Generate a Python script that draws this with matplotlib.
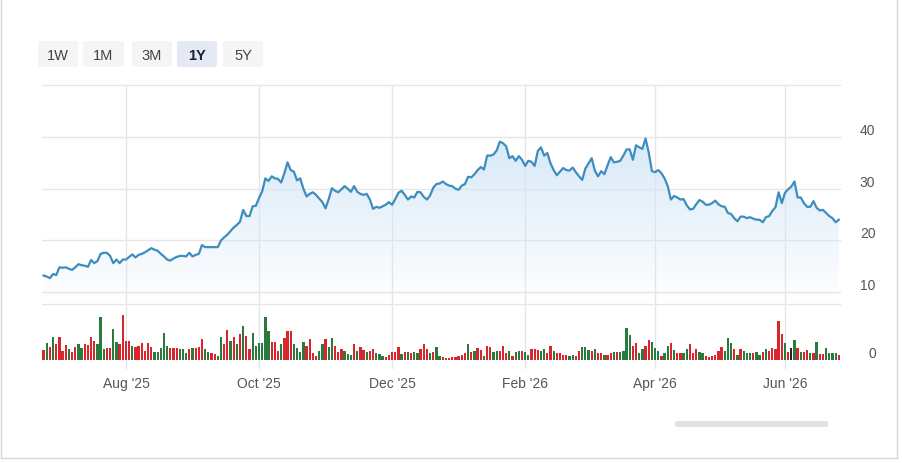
import numpy as np
import pandas as pd
import matplotlib
matplotlib.use("Agg")
import matplotlib.pyplot as plt
from matplotlib.patches import FancyBboxPatch, PathPatch
from matplotlib.lines import Line2D

plt.rcParams['font.family'] = ['Liberation Sans', 'DejaVu Sans']

# ---------------- data ----------------
holidays = ['2025-07-04', '2025-09-01', '2025-11-27', '2025-12-25', '2026-01-01',
            '2026-01-19', '2026-02-16', '2026-04-03', '2026-05-25', '2026-06-19']
dates = pd.bdate_range('2025-06-25', '2026-06-25', freq='C', holidays=holidays)

price = [
    13.2, 13.0, 12.7, 13.5, 13.3, 14.8, 14.7, 14.8, 14.5, 14.3,
    14.8, 15.4, 15.2, 15.1, 14.9, 16.2, 15.6, 16.0, 17.4, 17.6,
    17.6, 17.0, 15.6, 16.3, 15.6, 16.3, 16.3, 16.8, 17.3, 16.7,
    17.2, 17.4, 17.7, 18.1, 18.5, 18.2, 18.0, 17.4, 16.9, 16.3,
    16.1, 16.5, 16.8, 17.0, 17.0, 16.9, 17.6, 16.9, 17.2, 17.4,
    19.1, 18.7, 18.7, 18.7, 18.7, 18.7, 20.0, 20.6, 21.1, 21.8,
    22.5, 23.0, 23.6, 25.9, 24.7, 24.7, 26.6, 26.7, 28.2, 29.5,
    32.0, 31.5, 32.4, 32.0, 31.9, 31.2, 33.0, 35.1, 33.6, 33.3,
    31.6, 32.0, 30.0, 28.5, 29.0, 29.3, 28.8, 28.1, 27.4, 26.2,
    28.0, 30.1, 29.6, 29.3, 29.9, 30.5, 30.0, 29.4, 30.5, 29.4,
    29.0, 28.8, 29.0, 27.9, 26.1, 26.5, 26.3, 26.6, 26.9, 27.4,
    26.9, 28.0, 29.2, 29.6, 28.8, 27.9, 28.5, 28.3, 29.4, 29.3,
    28.4, 27.9, 28.7, 30.2, 30.9, 31.0, 31.4, 30.9, 30.6, 30.5,
    30.0, 29.8, 30.6, 30.9, 32.3, 32.2, 32.8, 33.6, 34.2, 33.7,
    36.4, 36.4, 36.6, 37.4, 39.1, 38.8, 38.2, 35.9, 36.3, 35.4,
    36.3, 35.6, 34.4, 35.4, 35.2, 34.4, 37.3, 38.0, 36.4, 36.9,
    34.9, 33.6, 32.6, 33.3, 34.0, 33.6, 33.5, 34.1, 33.2, 32.4,
    31.7, 33.9, 34.9, 35.9, 33.5, 32.4, 33.4, 32.8, 34.5, 36.1,
    35.1, 35.2, 35.4, 36.4, 37.6, 37.6, 35.6, 38.4, 38.0, 37.7,
    39.7, 37.0, 33.4, 33.2, 33.6, 33.0, 32.0, 30.5, 27.9, 28.6,
    28.3, 27.9, 28.0, 26.8, 26.0, 26.1, 27.0, 27.8, 27.5, 26.9,
    26.9, 27.2, 27.7, 27.0, 26.6, 26.5, 25.3, 25.1, 24.3, 23.7,
    24.6, 24.6, 24.3, 24.5, 24.2, 24.0, 24.0, 23.5, 24.5, 24.7,
    25.7, 26.4, 29.3, 27.2, 29.2, 29.9, 30.4, 31.4, 28.3, 28.3,
    27.2, 26.5, 26.5, 27.6, 26.3, 25.8, 25.9, 25.3, 24.7, 24.3,
    23.5, 24.0,
]

# volume, millions
volume = [
    1.0, 1.7, 1.3, 2.3, 1.6, 2.3, 0.9, 1.5, 1.1, 0.8,
    1.3, 1.6, 1.2, 1.6, 1.5, 2.3, 1.9, 1.6, 4.3, 1.1,
    1.2, 1.2, 3.1, 1.8, 1.6, 4.5, 1.9, 1.9, 1.4, 1.3,
    1.4, 1.7, 0.9, 1.7, 1.3, 0.8, 0.8, 1.2, 2.7, 1.4,
    1.2, 1.2, 1.2, 1.1, 1.1, 0.7, 1.1, 1.2, 1.2, 1.3,
    2.1, 1.1, 0.8, 0.7, 0.6, 0.4, 2.3, 1.6, 3.0, 1.9,
    2.3, 1.6, 2.6, 3.4, 2.4, 1.1, 2.7, 1.4, 1.7, 1.7,
    4.3, 2.9, 1.8, 1.8, 0.9, 1.6, 2.2, 2.9, 2.9, 1.6,
    1.2, 0.8, 1.8, 1.4, 2.1, 0.7, 0.4, 0.9, 1.6, 2.1,
    1.3, 2.2, 1.4, 0.8, 1.1, 0.9, 0.6, 0.5, 1.6, 0.9,
    1.3, 1.0, 0.8, 0.9, 1.1, 0.7, 0.6, 0.4, 0.3, 0.5,
    0.8, 0.8, 1.3, 0.6, 0.8, 0.8, 0.7, 0.8, 0.7, 1.1,
    1.6, 1.1, 0.7, 0.8, 1.3, 0.4, 0.3, 0.2, 0.2, 0.3,
    0.3, 0.4, 0.5, 0.7, 1.6, 0.8, 0.9, 1.2, 1.0, 0.4,
    1.4, 1.3, 0.8, 0.9, 0.9, 1.4, 0.7, 0.9, 0.4, 0.8,
    0.9, 0.9, 0.8, 0.5, 1.1, 1.1, 1.0, 0.9, 1.1, 0.7,
    1.4, 0.9, 0.7, 0.7, 0.5, 0.5, 0.4, 0.5, 0.4, 0.9,
    1.3, 1.3, 1.0, 0.9, 1.1, 0.7, 0.7, 0.5, 0.5, 0.7,
    0.8, 0.8, 0.8, 0.9, 3.2, 2.5, 1.4, 1.7, 0.7, 1.1,
    1.4, 2.0, 1.8, 1.2, 0.9, 0.4, 0.7, 1.4, 1.7, 1.0,
    0.7, 0.7, 0.7, 1.1, 1.6, 0.7, 1.1, 0.8, 0.7, 0.4,
    0.3, 0.4, 0.5, 0.9, 1.3, 0.9, 2.2, 1.7, 1.1, 0.5,
    1.1, 0.9, 0.7, 0.7, 0.7, 0.8, 0.5, 0.8, 1.1, 0.9,
    1.2, 1.1, 3.9, 2.6, 1.7, 0.8, 1.2, 2.0, 1.2, 0.8,
    0.8, 1.0, 0.7, 0.7, 1.8, 0.6, 0.6, 1.2, 0.7, 0.7,
    0.7, 0.5,
]

# day direction: g = up, r = down, k = unchanged
volume_dir = "".join([
    "rgrgrrrrgr", "rggrrrrggg", "rrggrrrrgr", "rrrrrggggg", "rrrgggrgrr",
    "rggrrggrrg", "rgrgrrgggg", "ggrrrgrrrg", "gggrrrrggr", "ggrrrgggrg",
    "rrgrrgggrr", "rrrgrgrggr", "rrgrggrrrr", "rrrrgrgrrg", "rrggrrrgrg",
    "grggrrrggr", "rgrrrrggrr", "gggrgrrgrr", "grggggrrgg", "rrgggrggrg",
    "rrggrrrggr", "rrrrrgggrg", "rgggrggrgr", "rrrrgrkgrg", "rrgrgrrggg",
    "gr",
])

tick_months = ['2025-08-01', '2025-10-01', '2025-12-01', '2026-02-01', '2026-04-01', '2026-06-01']
tick_labels = ["Aug '25", "Oct '25", "Dec '25", "Feb '26", "Apr '26", "Jun '26"]
price_ticks = [10, 20, 30, 40]
range_buttons = ['1W', '1M', '3M', '1Y', '5Y']
selected_button = '1Y'

# ---------------- figure ----------------
W, H = 903, 464
fig = plt.figure(figsize=(W / 100, H / 100), dpi=100, facecolor='white')


def fx(px):
    return px / W


def fy(py):
    return 1 - py / H


n = len(price)
x = np.arange(n)
tick_idx = [int(np.searchsorted(dates, pd.Timestamp(m))) for m in tick_months]

left_px, right_px = 42.0, 840.4
ax = fig.add_axes([fx(left_px), fy(305), fx(right_px - left_px), (305 - 86.3) / H])
axv = fig.add_axes([fx(left_px), fy(370), fx(right_px - left_px), (370 - 305) / H])

grid_c = '#e6e6e6'
line_c = '#3d8dbf'
ylo, yhi = 7.7, 50.0

# gradient area under the line
poly = ax.fill_between(x, price, ylo, color='none', lw=0)
path = poly.get_paths()[0]
clip = PathPatch(path, transform=ax.transData, facecolor='none', edgecolor='none')
ax.add_patch(clip)
rgba = np.zeros((256, 1, 4))
rgba[..., 0] = 0.82
rgba[..., 1] = 0.90
rgba[..., 2] = 0.965
rgba[..., 3] = np.linspace(0.85, 0.0, 256)[:, None]
im = ax.imshow(rgba, extent=[x[0], x[-1], ylo, max(price)], aspect='auto',
               origin='upper', zorder=1, interpolation='bilinear')
im.set_clip_path(clip)

ax.plot(x, price, color=line_c, lw=1.6, zorder=3, solid_joinstyle='round')

ax.set_xlim(-0.5, n - 0.5)
ax.set_ylim(ylo, yhi)
for v in price_ticks + [50]:
    ax.axhline(v, color=grid_c, lw=1, zorder=0, clip_on=False)
for t in tick_idx:
    ax.axvline(t, color=grid_c, lw=1, zorder=0)
ax.set_xticks([])
ax.yaxis.tick_right()
ax.set_yticks(price_ticks)
ax.set_yticklabels([str(v) for v in price_ticks])
ax.tick_params(axis='y', length=0, pad=14, labelsize=10, labelcolor='#555555')
for lab in ax.get_yticklabels():
    lab.set_va('bottom')
for s in ['top', 'left', 'right']:
    ax.spines[s].set_visible(False)
ax.spines['bottom'].set_color(grid_c)
ax.spines['bottom'].set_linewidth(1)
ax.set_facecolor('none')

# volume
col_map = {'g': '#2b7a3d', 'r': '#d9262c', 'k': '#222222'}
bar_cols = [col_map[c] for c in volume_dir]
axv.bar(x, volume, width=0.72, color=bar_cols, zorder=2, linewidth=0)
axv.set_xlim(-0.5, n - 0.5)
axv.set_ylim(-0.9, 5.6)
for t in tick_idx:
    axv.axvline(t, color=grid_c, lw=1, zorder=0)
axv.set_xticks(tick_idx)
axv.set_xticklabels(tick_labels)
axv.tick_params(axis='x', length=0, pad=5, labelsize=10, labelcolor='#555555')
axv.yaxis.tick_right()
axv.set_yticks([0])
axv.set_yticklabels(['0'])
axv.tick_params(axis='y', length=0, pad=20, labelsize=10, labelcolor='#555555')
for lab in axv.get_yticklabels():
    lab.set_va('bottom')
for s in axv.spines.values():
    s.set_visible(False)
axv.set_facecolor('none')

# range buttons
btn_x = [(38, 78), (83, 124), (132, 172), (177, 217), (223, 263)]
for label, (x0, x1) in zip(range_buttons, btn_x):
    sel = label == selected_button
    box = FancyBboxPatch((fx(x0), fy(68)), fx(x1 - x0), (68 - 42) / H,
                         boxstyle='round,pad=0,rounding_size=0.004',
                         transform=fig.transFigure,
                         facecolor='#e5e9f4' if sel else '#f4f5f7',
                         edgecolor='none')
    fig.add_artist(box)
    fig.text(fx((x0 + x1) / 2), fy(55.5), label, ha='center', va='center',
             fontsize=10.5, color='#1c1f33' if sel else '#444444',
             fontweight='bold' if sel else 'normal')

# scrollbar
sb = FancyBboxPatch((fx(675), fy(428)), fx(828 - 675), 6 / H,
                    boxstyle='round,pad=0,rounding_size=0.003',
                    transform=fig.transFigure, facecolor='#e3e3e3', edgecolor='none')
fig.add_artist(sb)

# card border
bc = '#d6d6d6'
fig.add_artist(Line2D([fx(1.5), fx(1.5)], [fy(0), fy(459)], color=bc, lw=1, transform=fig.transFigure))
fig.add_artist(Line2D([fx(897), fx(897)], [fy(0), fy(459)], color=bc, lw=1, transform=fig.transFigure))
fig.add_artist(Line2D([fx(1.5), fx(897)], [fy(459), fy(459)], color=bc, lw=1, transform=fig.transFigure))

fig.savefig('out.png', dpi=100, facecolor='white')
